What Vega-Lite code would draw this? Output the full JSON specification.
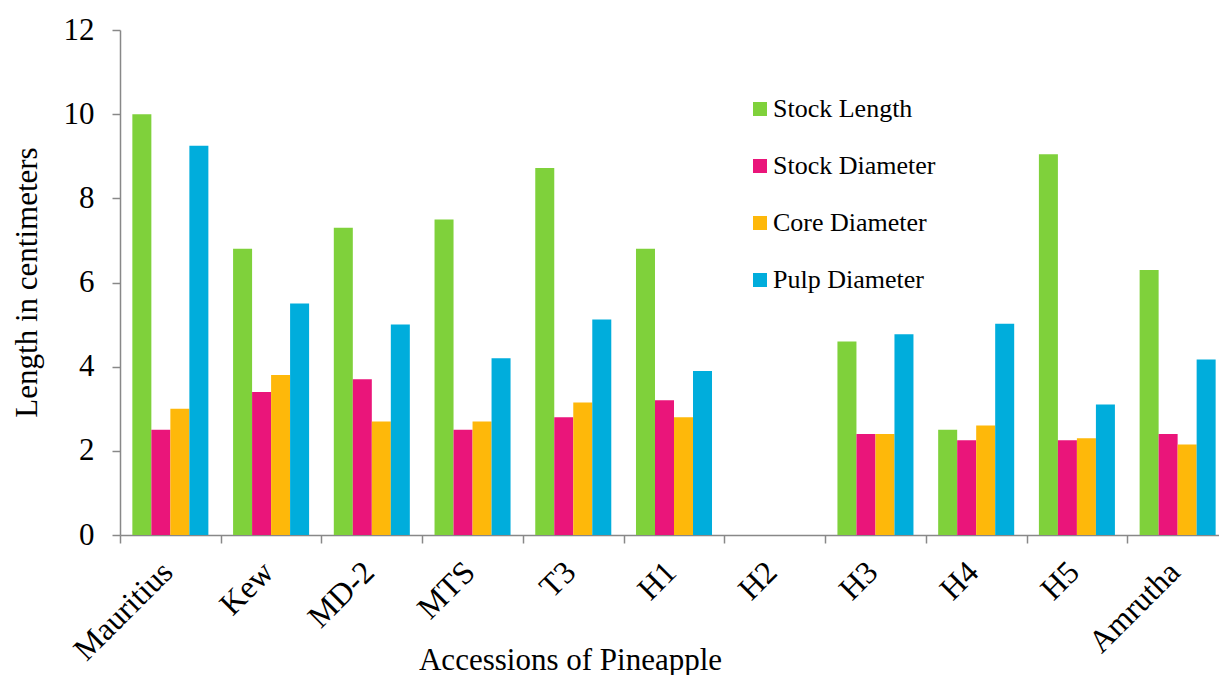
{
  "$schema": "https://vega.github.io/schema/vega-lite/v6.json",
  "width": 1108,
  "height": 505,
  "autosize": "none",
  "padding": {"left": 120, "top": 30, "right": 0, "bottom": 140},
  "background": "white",
  "config": {
    "view": {"stroke": null},
    "font": "Liberation Serif",
    "axis": {"labelFont": "Liberation Serif", "titleFont": "Liberation Serif"},
    "legend": {"labelFont": "Liberation Serif", "titleFont": "Liberation Serif"}
  },
  "data": {
    "values": [
      {"accession": "Mauritius", "measure": "Stock Length", "value": 10.0},
      {"accession": "Mauritius", "measure": "Stock Diameter", "value": 2.5},
      {"accession": "Mauritius", "measure": "Core Diameter", "value": 3.0},
      {"accession": "Mauritius", "measure": "Pulp Diameter", "value": 9.25},
      {"accession": "Kew", "measure": "Stock Length", "value": 6.8},
      {"accession": "Kew", "measure": "Stock Diameter", "value": 3.4},
      {"accession": "Kew", "measure": "Core Diameter", "value": 3.8},
      {"accession": "Kew", "measure": "Pulp Diameter", "value": 5.5},
      {"accession": "MD-2", "measure": "Stock Length", "value": 7.3},
      {"accession": "MD-2", "measure": "Stock Diameter", "value": 3.7},
      {"accession": "MD-2", "measure": "Core Diameter", "value": 2.7},
      {"accession": "MD-2", "measure": "Pulp Diameter", "value": 5.0},
      {"accession": "MTS", "measure": "Stock Length", "value": 7.5},
      {"accession": "MTS", "measure": "Stock Diameter", "value": 2.5},
      {"accession": "MTS", "measure": "Core Diameter", "value": 2.7},
      {"accession": "MTS", "measure": "Pulp Diameter", "value": 4.2},
      {"accession": "T3", "measure": "Stock Length", "value": 8.72},
      {"accession": "T3", "measure": "Stock Diameter", "value": 2.8},
      {"accession": "T3", "measure": "Core Diameter", "value": 3.15},
      {"accession": "T3", "measure": "Pulp Diameter", "value": 5.12},
      {"accession": "H1", "measure": "Stock Length", "value": 6.8},
      {"accession": "H1", "measure": "Stock Diameter", "value": 3.2},
      {"accession": "H1", "measure": "Core Diameter", "value": 2.8},
      {"accession": "H1", "measure": "Pulp Diameter", "value": 3.9},
      {"accession": "H2", "measure": "Stock Length", "value": 0},
      {"accession": "H2", "measure": "Stock Diameter", "value": 0},
      {"accession": "H2", "measure": "Core Diameter", "value": 0},
      {"accession": "H2", "measure": "Pulp Diameter", "value": 0},
      {"accession": "H3", "measure": "Stock Length", "value": 4.6},
      {"accession": "H3", "measure": "Stock Diameter", "value": 2.4},
      {"accession": "H3", "measure": "Core Diameter", "value": 2.4},
      {"accession": "H3", "measure": "Pulp Diameter", "value": 4.77},
      {"accession": "H4", "measure": "Stock Length", "value": 2.5},
      {"accession": "H4", "measure": "Stock Diameter", "value": 2.25},
      {"accession": "H4", "measure": "Core Diameter", "value": 2.6},
      {"accession": "H4", "measure": "Pulp Diameter", "value": 5.02},
      {"accession": "H5", "measure": "Stock Length", "value": 9.05},
      {"accession": "H5", "measure": "Stock Diameter", "value": 2.25},
      {"accession": "H5", "measure": "Core Diameter", "value": 2.3},
      {"accession": "H5", "measure": "Pulp Diameter", "value": 3.1},
      {"accession": "Amrutha", "measure": "Stock Length", "value": 6.3},
      {"accession": "Amrutha", "measure": "Stock Diameter", "value": 2.4},
      {"accession": "Amrutha", "measure": "Core Diameter", "value": 2.15},
      {"accession": "Amrutha", "measure": "Pulp Diameter", "value": 4.17}
    ]
  },
  "mark": {"type": "bar"},
  "encoding": {
    "x": {
      "field": "accession",
      "type": "nominal",
      "sort": ["Mauritius", "Kew", "MD-2", "MTS", "T3", "H1", "H2", "H3", "H4", "H5", "Amrutha"],
      "scale": {"paddingInner": 0, "paddingOuter": 0},
      "axis": {
        "title": "Accessions of Pineapple",
        "titleFont": "Liberation Serif",
        "titleFontSize": 31,
        "titleFontWeight": "normal",
        "titleColor": "black",
        "titleX": 450,
        "titleY": 134,
        "titleBaseline": "alphabetic",
        "titleAlign": "center",
        "labelFont": "Liberation Serif",
        "labelAngle": -45,
        "labelAlign": "right",
        "labelBaseline": "top",
        "labelFontSize": 32,
        "labelColor": "black",
        "labelPadding": 13,
        "labelOffset": -14,
        "labelOverlap": false,
        "labelBound": false,
        "tickBand": "extent",
        "tickSize": 8,
        "tickColor": "#888888",
        "tickWidth": 1.5,
        "domainColor": "#888888",
        "domainWidth": 1.5
      }
    },
    "xOffset": {
      "field": "measure",
      "type": "nominal",
      "sort": ["Stock Length", "Stock Diameter", "Core Diameter", "Pulp Diameter"],
      "scale": {"paddingInner": 0, "paddingOuter": 0.65}
    },
    "y": {
      "field": "value",
      "type": "quantitative",
      "scale": {"domain": [0, 12], "nice": false},
      "axis": {
        "title": "Length in centimeters",
        "titleFont": "Liberation Serif",
        "titleFontSize": 31,
        "titleFontWeight": "normal",
        "titleColor": "black",
        "titleAngle": -90,
        "titleX": -93,
        "titleY": 252,
        "titleAlign": "center",
        "titleBaseline": "middle",
        "values": [0, 2, 4, 6, 8, 10, 12],
        "grid": false,
        "labelFont": "Liberation Serif",
        "labelFontSize": 31,
        "labelColor": "black",
        "labelPadding": 18,
        "tickSize": 8,
        "tickColor": "#888888",
        "tickWidth": 1.5,
        "domainColor": "#888888",
        "domainWidth": 1.5
      }
    },
    "color": {
      "field": "measure",
      "type": "nominal",
      "sort": ["Stock Length", "Stock Diameter", "Core Diameter", "Pulp Diameter"],
      "scale": {
        "domain": ["Stock Length", "Stock Diameter", "Core Diameter", "Pulp Diameter"],
        "range": ["#7FD13B", "#EA157A", "#FEB80A", "#00ADDC"]
      },
      "legend": {
        "title": null,
        "orient": "none",
        "legendX": 627,
        "legendY": 66,
        "symbolType": "square",
        "symbolSize": 196,
        "symbolStrokeWidth": 0,
        "labelFont": "Liberation Serif",
        "labelFontSize": 26,
        "labelColor": "black",
        "labelOffset": 0,
        "rowPadding": 31,
        "labelLimit": 400
      }
    }
  }
}
